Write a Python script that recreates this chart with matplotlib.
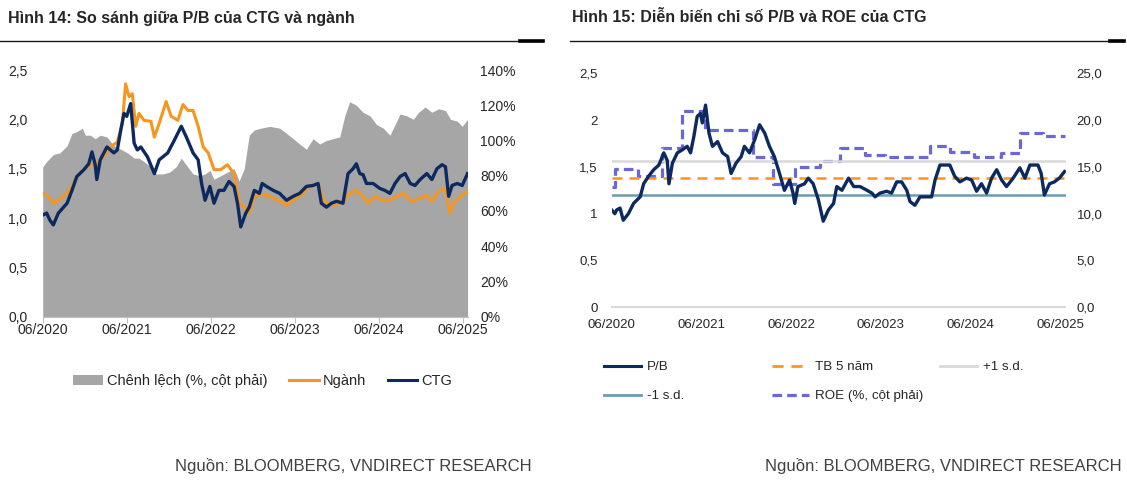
import pandas as pd
import matplotlib
matplotlib.use("Agg")
import matplotlib.pyplot as plt
from matplotlib.lines import Line2D
from matplotlib.patches import Patch
from matplotlib.ticker import FuncFormatter

plt.rcParams['font.family'] = ['Liberation Sans', 'DejaVu Sans']

# ---- Hình 14: P/B CTG vs ngành ----
ctg_dates = [
    "2020-06-01", "2020-06-18", "2020-07-02", "2020-07-17", "2020-08-08", "2020-09-15",
    "2020-10-06", "2020-10-27", "2020-11-27", "2020-12-18", "2021-01-01", "2021-01-15",
    "2021-01-22", "2021-02-06", "2021-03-07", "2021-04-06", "2021-04-21", "2021-05-06",
    "2021-05-20", "2021-06-01", "2021-06-18", "2021-07-03", "2021-07-17", "2021-08-01",
    "2021-08-30", "2021-09-29", "2021-10-20", "2021-11-26", "2021-12-25", "2022-01-24",
    "2022-02-15", "2022-03-16", "2022-04-07", "2022-04-22", "2022-05-07", "2022-05-28",
    "2022-06-15", "2022-07-06", "2022-07-28", "2022-08-19", "2022-09-10", "2022-09-25",
    "2022-10-09", "2022-10-31", "2022-11-15", "2022-12-07", "2022-12-29", "2023-01-10",
    "2023-01-29", "2023-02-27", "2023-03-27", "2023-04-26", "2023-05-25", "2023-06-22",
    "2023-07-21", "2023-08-19", "2023-09-10", "2023-09-24", "2023-10-16", "2023-11-07",
    "2023-11-29", "2023-12-27", "2024-01-18", "2024-02-09", "2024-02-23", "2024-03-09",
    "2024-03-23", "2024-04-07", "2024-05-06", "2024-06-04", "2024-06-26", "2024-07-18",
    "2024-08-09", "2024-08-31", "2024-09-22", "2024-10-14", "2024-11-04", "2024-11-26",
    "2024-12-25", "2025-01-16", "2025-02-07", "2025-03-01", "2025-03-16", "2025-03-30",
    "2025-04-14", "2025-05-06", "2025-05-28", "2025-06-20",
]
ctg_pb = [
    1.03, 1.05, 0.98, 0.93, 1.05, 1.15,
    1.28, 1.42, 1.49, 1.55, 1.67, 1.54,
    1.39, 1.59, 1.72, 1.66, 1.69, 1.89,
    2.06, 2.03, 2.16, 1.76, 1.69, 1.72,
    1.62, 1.45, 1.59, 1.66, 1.79, 1.93,
    1.82, 1.66, 1.59, 1.35, 1.18, 1.32,
    1.15, 1.28, 1.28, 1.37, 1.32, 1.15,
    0.91, 1.05, 1.11, 1.28, 1.25, 1.35,
    1.32, 1.28, 1.25, 1.18, 1.22, 1.25,
    1.32, 1.33, 1.35, 1.15, 1.11, 1.15,
    1.17, 1.15, 1.45, 1.50, 1.55, 1.45,
    1.44, 1.35, 1.35, 1.30, 1.28, 1.25,
    1.35, 1.42, 1.45, 1.35, 1.33, 1.39,
    1.45, 1.39, 1.50, 1.54, 1.52, 1.22,
    1.33, 1.35, 1.33, 1.45,
]

nganh_dates = [
    "2020-06-01", "2020-06-25", "2020-07-17", "2020-08-08", "2020-09-15", "2020-10-06",
    "2020-10-27", "2020-11-27", "2020-12-25", "2021-01-22", "2021-02-20", "2021-03-22",
    "2021-04-21", "2021-05-13", "2021-05-27", "2021-06-11", "2021-06-25", "2021-07-10",
    "2021-07-24", "2021-08-15", "2021-09-14", "2021-09-29", "2021-10-20", "2021-11-19",
    "2021-12-11", "2022-01-09", "2022-01-31", "2022-02-22", "2022-03-16", "2022-04-07",
    "2022-04-29", "2022-05-21", "2022-06-15", "2022-07-14", "2022-08-12", "2022-09-10",
    "2022-10-02", "2022-10-24", "2022-11-15", "2022-12-07", "2023-01-05", "2023-02-12",
    "2023-03-27", "2023-04-26", "2023-05-25", "2023-07-06", "2023-08-04", "2023-09-10",
    "2023-10-02", "2023-10-23", "2023-11-21", "2023-12-27", "2024-01-25", "2024-02-23",
    "2024-03-23", "2024-04-14", "2024-05-13", "2024-06-19", "2024-07-18", "2024-08-16",
    "2024-09-14", "2024-10-21", "2024-11-26", "2024-12-25", "2025-01-16", "2025-02-14",
    "2025-03-16", "2025-04-04", "2025-04-21", "2025-05-20", "2025-06-20",
]
nganh_pb = [
    1.25, 1.22, 1.15, 1.18, 1.25, 1.32,
    1.42, 1.49, 1.54, 1.55, 1.62, 1.72,
    1.77, 1.96, 2.36, 2.23, 2.26, 1.93,
    2.06, 1.99, 1.98, 1.82, 1.96, 2.18,
    2.03, 1.99, 2.15, 2.09, 2.09, 1.93,
    1.72, 1.66, 1.49, 1.49, 1.54, 1.45,
    1.15, 1.11, 1.05, 1.22, 1.24, 1.22,
    1.17, 1.13, 1.18, 1.25, 1.32, 1.35,
    1.18, 1.15, 1.13, 1.17, 1.25, 1.28,
    1.22, 1.15, 1.22, 1.18, 1.18, 1.22,
    1.25, 1.17, 1.20, 1.23, 1.17, 1.27,
    1.30, 1.05, 1.15, 1.22, 1.27,
]

spread_dates = [
    "2020-06-01", "2020-06-18", "2020-07-17", "2020-08-15", "2020-09-15", "2020-10-06",
    "2020-10-27", "2020-11-20", "2020-12-03", "2020-12-25", "2021-01-15", "2021-02-06",
    "2021-03-07", "2021-04-06", "2021-05-06", "2021-06-04", "2021-07-03", "2021-07-24",
    "2021-08-15", "2021-09-14", "2021-10-06", "2021-11-04", "2021-12-03", "2022-01-01",
    "2022-01-24", "2022-02-15", "2022-03-16", "2022-04-14", "2022-05-07", "2022-05-28",
    "2022-06-15", "2022-07-14", "2022-08-12", "2022-09-10", "2022-10-02", "2022-10-24",
    "2022-11-15", "2022-12-07", "2023-01-05", "2023-02-12", "2023-03-27", "2023-04-26",
    "2023-05-25", "2023-06-22", "2023-07-21", "2023-08-19", "2023-09-17", "2023-10-16",
    "2023-11-14", "2023-12-13", "2024-01-04", "2024-01-25", "2024-02-23", "2024-03-23",
    "2024-04-22", "2024-05-21", "2024-06-19", "2024-07-18", "2024-08-09", "2024-08-31",
    "2024-09-29", "2024-10-28", "2024-11-19", "2024-12-18", "2025-01-16", "2025-02-14",
    "2025-03-16", "2025-04-07", "2025-05-06", "2025-05-28", "2025-06-20",
]
spread_pct = [
    85, 88, 92, 93, 97, 104,
    105, 107, 103, 103, 101, 103,
    102, 97, 95, 93, 90, 90,
    88, 85, 81, 81, 82, 85,
    90, 86, 81, 80, 81, 83,
    78, 80, 82, 84, 77, 84,
    103, 106, 107, 108, 107, 104,
    101, 98, 95, 101, 98, 100,
    101, 102, 114, 122, 120, 116,
    114, 109, 107, 103, 109, 115,
    114, 112, 116, 119, 116, 118,
    117, 112, 111, 108, 112,
]

# ---- Hình 15: P/B và ROE của CTG ----
pb_dates = [
    "2020-06-01", "2020-06-14", "2020-06-21", "2020-07-05", "2020-07-18", "2020-08-08",
    "2020-08-29", "2020-09-25", "2020-10-09", "2020-10-29", "2020-11-19", "2020-12-10",
    "2020-12-30", "2021-01-13", "2021-01-20", "2021-02-03", "2021-02-23", "2021-03-14",
    "2021-04-04", "2021-04-18", "2021-05-01", "2021-05-15", "2021-05-28", "2021-06-05",
    "2021-06-18", "2021-07-02", "2021-07-16", "2021-08-06", "2021-08-26", "2021-09-16",
    "2021-09-30", "2021-10-20", "2021-11-10", "2021-11-23", "2021-12-14", "2022-01-04",
    "2022-01-24", "2022-02-14", "2022-03-05", "2022-03-25", "2022-04-15", "2022-05-05",
    "2022-05-26", "2022-06-09", "2022-06-16", "2022-06-29", "2022-07-26", "2022-08-10",
    "2022-08-30", "2022-09-20", "2022-10-10", "2022-10-31", "2022-11-21", "2022-12-04",
    "2022-12-25", "2023-01-21", "2023-02-11", "2023-03-09", "2023-04-06", "2023-04-26",
    "2023-05-09", "2023-05-29", "2023-06-25", "2023-07-15", "2023-08-05", "2023-08-25",
    "2023-09-15", "2023-09-28", "2023-10-18", "2023-11-08", "2023-12-05", "2023-12-25",
    "2024-01-08", "2024-01-28", "2024-02-18", "2024-03-08", "2024-03-28", "2024-04-18",
    "2024-05-15", "2024-06-05", "2024-06-25", "2024-07-15", "2024-08-05", "2024-08-25",
    "2024-09-15", "2024-10-05", "2024-10-25", "2024-11-21", "2024-12-18", "2025-01-08",
    "2025-01-28", "2025-03-02", "2025-03-15", "2025-03-28", "2025-04-18", "2025-05-08",
    "2025-05-28", "2025-06-18",
]
pb_value = [
    1.04, 1.00, 1.04, 1.06, 0.93, 1.00,
    1.11, 1.18, 1.32, 1.40, 1.47, 1.52,
    1.65, 1.57, 1.32, 1.54, 1.65, 1.68,
    1.72, 1.65, 1.82, 2.04, 2.07, 1.97,
    2.16, 1.86, 1.72, 1.77, 1.65, 1.61,
    1.43, 1.54, 1.61, 1.72, 1.65, 1.79,
    1.95, 1.86, 1.72, 1.61, 1.43, 1.25,
    1.36, 1.22, 1.11, 1.29, 1.32, 1.38,
    1.32, 1.15, 0.92, 1.04, 1.11, 1.29,
    1.25, 1.38, 1.29, 1.29, 1.25, 1.22,
    1.18, 1.22, 1.24, 1.22, 1.34, 1.34,
    1.25, 1.13, 1.09, 1.18, 1.18, 1.18,
    1.36, 1.52, 1.52, 1.52, 1.40, 1.34,
    1.38, 1.36, 1.24, 1.32, 1.22, 1.38,
    1.47, 1.36, 1.29, 1.38, 1.49, 1.38,
    1.52, 1.52, 1.43, 1.20, 1.32, 1.34,
    1.38, 1.45,
]
pb_mean = 1.38
pb_plus_sd = 1.56
pb_minus_sd = 1.20

roe_dates = [
    "2020-06-01", "2020-06-15", "2020-09-18", "2020-12-23", "2021-03-14", "2021-06-16",
    "2021-12-28", "2022-03-18", "2022-06-18", "2022-09-27", "2022-12-19", "2023-03-29",
    "2023-06-18", "2023-12-18", "2024-03-10", "2024-06-14", "2024-10-01", "2024-12-20",
    "2025-03-24", "2025-06-18",
]
roe_pct = [
    12.9, 14.8, 14.0, 17.0, 21.0, 18.9,
    16.1, 13.2, 15.0, 15.6, 17.0, 16.3,
    16.1, 17.2, 16.6, 16.1, 16.5, 18.6,
    18.3, 18.3,
]

tick_years = [2020, 2021, 2022, 2023, 2024, 2025]

NAVY = "#0C2A5F"
ORANGE = "#F7961E"
GRAY_FILL = "#A6A6A6"
LIGHT_GRAY = "#D9D9D9"
TEAL = "#6A9CB0"
ROE_BLUE = "#6C67D6"
TEXT = "#262626"

W, H = 1127, 480
fig = plt.figure(figsize=(W / 100, H / 100), dpi=100)


def fx(px):
    return px / W


def fy(py):
    return 1 - py / H


def comma(fmt):
    return FuncFormatter(lambda v, _: fmt.format(v).replace(".", ","))


xticks = [pd.Timestamp(f"{y}-06-01") for y in tick_years]
xlabels = [f"06/{y}" for y in tick_years]
xlim = (pd.Timestamp("2020-06-01"), pd.Timestamp("2025-06-22"))

# ---------------- left chart ----------------
ax1 = fig.add_axes([fx(42.7), fy(316.7), fx(468 - 42.7), (316.7 - 70) / H])
ax1r = ax1.twinx()
ax1r.fill_between(pd.to_datetime(spread_dates), spread_pct, color=GRAY_FILL, lw=0)
ax1.plot(pd.to_datetime(nganh_dates), nganh_pb, color=ORANGE, lw=2.2)
ax1.plot(pd.to_datetime(ctg_dates), ctg_pb, color=NAVY, lw=2.4)
ax1.set_zorder(ax1r.get_zorder() + 1)
ax1.patch.set_visible(False)

ax1.set_xlim(*xlim)
ax1.set_ylim(0, 2.5)
ax1r.set_ylim(0, 140)
ax1.set_yticks([0, 0.5, 1.0, 1.5, 2.0, 2.5])
ax1.yaxis.set_major_formatter(comma("{:.1f}"))
ax1r.set_yticks(range(0, 141, 20))
ax1r.yaxis.set_major_formatter(FuncFormatter(lambda v, _: f"{v:.0f}%"))
ax1.set_xticks(xticks)
ax1.set_xticklabels(xlabels)
for s in ["top", "left", "right"]:
    ax1.spines[s].set_visible(False)
for s in ax1r.spines.values():
    s.set_visible(False)
ax1.spines["bottom"].set_color("#BFBFBF")
ax1.tick_params(axis="x", length=4, color="#BFBFBF", labelsize=10, labelcolor=TEXT, pad=0.5)
ax1.tick_params(axis="y", length=0, labelsize=10, labelcolor=TEXT, pad=11)
ax1r.tick_params(axis="y", length=0, labelsize=10, labelcolor=TEXT, pad=9)

fig.legend(
    handles=[Patch(color=GRAY_FILL, lw=0), Line2D([], [], color=ORANGE, lw=2.2),
             Line2D([], [], color=NAVY, lw=2.2)],
    labels=["Chênh lệch (%, cột phải)", "Ngành", "CTG"],
    loc="upper left", bbox_to_anchor=(fx(73), fy(374)), ncol=3, frameon=False,
    borderpad=0, borderaxespad=0, fontsize=10.5, handlelength=2.05,
    handletextpad=0.25, columnspacing=1.5, labelcolor=TEXT,
)

# ---------------- right chart ----------------
ax2 = fig.add_axes([fx(611.7), fy(307.3), fx(1065.5 - 611.7), (307.3 - 73.3) / H])
ax2r = ax2.twinx()
ax2r.plot(pd.to_datetime(roe_dates), roe_pct, color=ROE_BLUE, lw=2.3,
          drawstyle="steps-post", dashes=(3, 1.6))
ax2.axhline(pb_plus_sd, color=LIGHT_GRAY, lw=1.8)
ax2.axhline(pb_minus_sd, color=TEAL, lw=1.8)
ax2.axhline(pb_mean, color=ORANGE, lw=1.8, dashes=(4, 2.8))
ax2.plot(pd.to_datetime(pb_dates), pb_value, color=NAVY, lw=2.4)
ax2.set_zorder(ax2r.get_zorder() + 1)
ax2.patch.set_visible(False)

ax2.set_xlim(*xlim)
ax2.set_ylim(0, 2.5)
ax2r.set_ylim(0, 25)
ax2.set_yticks([0, 0.5, 1, 1.5, 2, 2.5])
ax2.yaxis.set_major_formatter(FuncFormatter(lambda v, _: f"{v:g}".replace(".", ",")))
ax2r.set_yticks(range(0, 26, 5))
ax2r.yaxis.set_major_formatter(comma("{:.1f}"))
ax2.set_xticks(xticks)
ax2.set_xticklabels(xlabels)
for s in ["top", "left", "right"]:
    ax2.spines[s].set_visible(False)
for s in ax2r.spines.values():
    s.set_visible(False)
ax2.spines["bottom"].set_color(LIGHT_GRAY)
ax2.spines["bottom"].set_linewidth(1.5)
ax2.tick_params(axis="x", length=0, labelsize=9.5, labelcolor=TEXT, pad=8.5)
ax2.tick_params(axis="y", length=0, labelsize=9.5, labelcolor=TEXT, pad=10)
ax2r.tick_params(axis="y", length=0, labelsize=9.5, labelcolor=TEXT, pad=8)

leg_cols = [
    ([Line2D([], [], color=NAVY, lw=2.2), Line2D([], [], color=TEAL, lw=2.0)],
     ["P/B", "-1 s.d."], 604),
    ([Line2D([], [], color=ORANGE, lw=2.0, dashes=(4, 2.8)),
      Line2D([], [], color=ROE_BLUE, lw=2.3, dashes=(3, 1.6))],
     ["TB 5 năm", "ROE (%, cột phải)"], 772),
    ([Line2D([], [], color=LIGHT_GRAY, lw=2.0)], ["+1 s.d."], 940),
]
for handles, labels, x0 in leg_cols:
    fig.legend(handles=handles, labels=labels, loc="upper left",
               bbox_to_anchor=(fx(x0), fy(361)), frameon=False, borderpad=0,
               borderaxespad=0, fontsize=9.6, handlelength=2.8,
               handletextpad=0.4, labelspacing=1.25, labelcolor=TEXT)

# ---------------- titles, rules, sources ----------------
fig.text(fx(8), fy(18), "Hình 14: So sánh giữa P/B của CTG và ngành",
         fontsize=11.5, fontweight="bold", color=TEXT, va="center")
fig.text(fx(572), fy(18), "Hình 15: Diễn biến chỉ số P/B và ROE của CTG",
         fontsize=11.5, fontweight="bold", color=TEXT, va="center")

for x0, x1, x2 in [(0, 520, 543), (570, 1110, 1124)]:
    fig.add_artist(Line2D([fx(x0), fx(x2)], [fy(40.5), fy(40.5)], color="#1A1A1A", lw=1.0))
    fig.add_artist(Line2D([fx(x1), fx(x2)], [fy(41.3), fy(41.3)], color="#000000", lw=2.6))

fig.text(fx(532), fy(466), "Nguồn: BLOOMBERG, VNDIRECT RESEARCH",
         fontsize=12, color="#404040", ha="right", va="center")
fig.text(fx(1122), fy(466), "Nguồn: BLOOMBERG, VNDIRECT RESEARCH",
         fontsize=12, color="#404040", ha="right", va="center")

fig.savefig("out.png", dpi=100)
